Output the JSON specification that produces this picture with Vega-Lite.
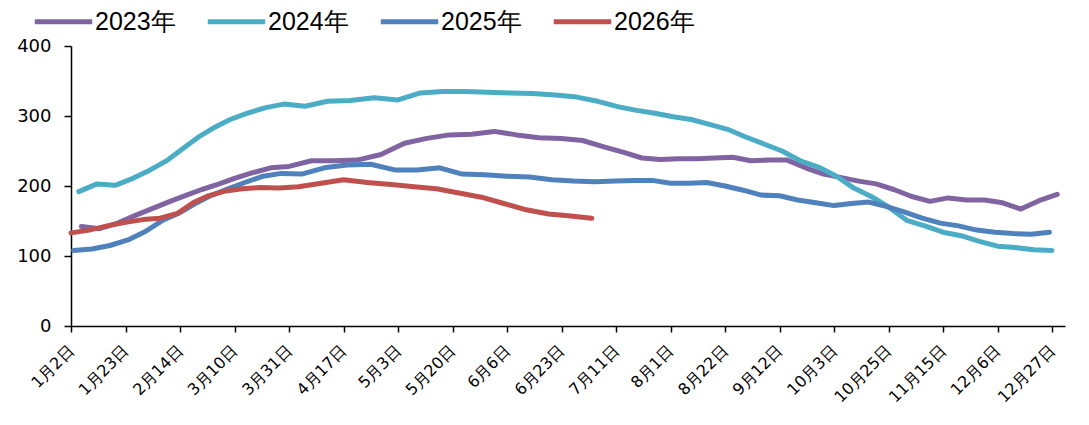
{
  "$schema": "https://vega.github.io/schema/vega-lite/v6.json",
  "width": 994,
  "height": 280,
  "autosize": {"type": "none"},
  "padding": {"left": 71, "top": 46, "right": 24, "bottom": 99},
  "background": "white",
  "config": {"view": {"stroke": null}},
  "data": {"values": [
    {"series":"2023年","date":"2023-01-06","day":6,"value":142},{"series":"2023年","date":"2023-01-13","day":13,"value":139},{"series":"2023年","date":"2023-01-20","day":20,"value":147},{"series":"2023年","date":"2023-01-27","day":27,"value":158},
    {"series":"2023年","date":"2023-02-03","day":34,"value":168},{"series":"2023年","date":"2023-02-10","day":41,"value":178},{"series":"2023年","date":"2023-02-17","day":48,"value":187},{"series":"2023年","date":"2023-02-24","day":55,"value":195},
    {"series":"2023年","date":"2023-03-03","day":63,"value":203},{"series":"2023年","date":"2023-03-10","day":70,"value":211},{"series":"2023年","date":"2023-03-17","day":77,"value":219},{"series":"2023年","date":"2023-03-24","day":84,"value":226},{"series":"2023年","date":"2023-03-31","day":91,"value":228},
    {"series":"2023年","date":"2023-04-07","day":98,"value":236},{"series":"2023年","date":"2023-04-14","day":105,"value":236},{"series":"2023年","date":"2023-04-21","day":112,"value":237},{"series":"2023年","date":"2023-04-28","day":119,"value":245},
    {"series":"2023年","date":"2023-05-05","day":126,"value":261},{"series":"2023年","date":"2023-05-12","day":133,"value":268},{"series":"2023年","date":"2023-05-19","day":140,"value":273},{"series":"2023年","date":"2023-05-26","day":147,"value":274},
    {"series":"2023年","date":"2023-06-02","day":154,"value":278},{"series":"2023年","date":"2023-06-09","day":161,"value":273},{"series":"2023年","date":"2023-06-16","day":168,"value":269},{"series":"2023年","date":"2023-06-23","day":175,"value":268},{"series":"2023年","date":"2023-06-30","day":182,"value":265},
    {"series":"2023年","date":"2023-07-07","day":189,"value":256},{"series":"2023年","date":"2023-07-14","day":196,"value":248},{"series":"2023年","date":"2023-07-21","day":203,"value":240},{"series":"2023年","date":"2023-07-28","day":210,"value":238},
    {"series":"2023年","date":"2023-08-04","day":217,"value":239},{"series":"2023年","date":"2023-08-11","day":224,"value":239},{"series":"2023年","date":"2023-08-18","day":231,"value":240},{"series":"2023年","date":"2023-08-25","day":238,"value":241},
    {"series":"2023年","date":"2023-09-01","day":245,"value":236},{"series":"2023年","date":"2023-09-08","day":252,"value":237},{"series":"2023年","date":"2023-09-15","day":259,"value":237},{"series":"2023年","date":"2023-09-22","day":266,"value":226},{"series":"2023年","date":"2023-09-29","day":273,"value":217},
    {"series":"2023年","date":"2023-10-06","day":280,"value":212},{"series":"2023年","date":"2023-10-13","day":287,"value":207},{"series":"2023年","date":"2023-10-20","day":294,"value":203},{"series":"2023年","date":"2023-10-27","day":301,"value":195},
    {"series":"2023年","date":"2023-11-03","day":308,"value":185},{"series":"2023年","date":"2023-11-10","day":315,"value":178},{"series":"2023年","date":"2023-11-17","day":322,"value":183},{"series":"2023年","date":"2023-11-24","day":329,"value":180},
    {"series":"2023年","date":"2023-12-01","day":336,"value":180},{"series":"2023年","date":"2023-12-08","day":343,"value":176},{"series":"2023年","date":"2023-12-15","day":350,"value":167},{"series":"2023年","date":"2023-12-22","day":357,"value":179},{"series":"2023年","date":"2023-12-29","day":364,"value":188},

    {"series":"2024年","date":"2024-01-05","day":5,"value":192},{"series":"2024年","date":"2024-01-12","day":12,"value":203},{"series":"2024年","date":"2024-01-19","day":19,"value":201},{"series":"2024年","date":"2024-01-26","day":26,"value":211},
    {"series":"2024年","date":"2024-02-02","day":33,"value":223},{"series":"2024年","date":"2024-02-09","day":40,"value":237},{"series":"2024年","date":"2024-02-16","day":47,"value":255},{"series":"2024年","date":"2024-02-23","day":54,"value":271},
    {"series":"2024年","date":"2024-03-01","day":61,"value":284},{"series":"2024年","date":"2024-03-08","day":68,"value":295},{"series":"2024年","date":"2024-03-15","day":75,"value":304},{"series":"2024年","date":"2024-03-22","day":82,"value":312},{"series":"2024年","date":"2024-03-29","day":89,"value":317},
    {"series":"2024年","date":"2024-04-05","day":96,"value":314},{"series":"2024年","date":"2024-04-12","day":103,"value":321},{"series":"2024年","date":"2024-04-19","day":110,"value":322},{"series":"2024年","date":"2024-04-26","day":117,"value":326},
    {"series":"2024年","date":"2024-05-03","day":124,"value":323},{"series":"2024年","date":"2024-05-10","day":131,"value":333},{"series":"2024年","date":"2024-05-17","day":138,"value":335},{"series":"2024年","date":"2024-05-24","day":145,"value":335},{"series":"2024年","date":"2024-05-31","day":152,"value":334},
    {"series":"2024年","date":"2024-06-07","day":159,"value":333},{"series":"2024年","date":"2024-06-14","day":166,"value":332},{"series":"2024年","date":"2024-06-21","day":173,"value":330},{"series":"2024年","date":"2024-06-28","day":180,"value":327},
    {"series":"2024年","date":"2024-07-05","day":187,"value":321},{"series":"2024年","date":"2024-07-12","day":194,"value":313},{"series":"2024年","date":"2024-07-19","day":201,"value":308},{"series":"2024年","date":"2024-07-26","day":208,"value":304},
    {"series":"2024年","date":"2024-08-02","day":215,"value":299},{"series":"2024年","date":"2024-08-09","day":222,"value":295},{"series":"2024年","date":"2024-08-16","day":229,"value":288},{"series":"2024年","date":"2024-08-23","day":236,"value":281},{"series":"2024年","date":"2024-08-30","day":243,"value":270},
    {"series":"2024年","date":"2024-09-06","day":250,"value":260},{"series":"2024年","date":"2024-09-13","day":257,"value":250},{"series":"2024年","date":"2024-09-20","day":264,"value":236},{"series":"2024年","date":"2024-09-27","day":271,"value":227},
    {"series":"2024年","date":"2024-10-04","day":278,"value":214},{"series":"2024年","date":"2024-10-11","day":285,"value":197},{"series":"2024年","date":"2024-10-18","day":292,"value":185},{"series":"2024年","date":"2024-10-25","day":299,"value":170},
    {"series":"2024年","date":"2024-11-01","day":306,"value":151},{"series":"2024年","date":"2024-11-08","day":313,"value":143},{"series":"2024年","date":"2024-11-15","day":320,"value":134},{"series":"2024年","date":"2024-11-22","day":327,"value":129},{"series":"2024年","date":"2024-11-29","day":334,"value":121},
    {"series":"2024年","date":"2024-12-06","day":341,"value":114},{"series":"2024年","date":"2024-12-13","day":348,"value":112},{"series":"2024年","date":"2024-12-20","day":355,"value":109},{"series":"2024年","date":"2024-12-27","day":362,"value":108},

    {"series":"2025年","date":"2025-01-03","day":3,"value":108},{"series":"2025年","date":"2025-01-10","day":10,"value":110},{"series":"2025年","date":"2025-01-17","day":17,"value":115},{"series":"2025年","date":"2025-01-24","day":24,"value":123},{"series":"2025年","date":"2025-01-31","day":31,"value":135},
    {"series":"2025年","date":"2025-02-07","day":38,"value":151},{"series":"2025年","date":"2025-02-14","day":45,"value":162},{"series":"2025年","date":"2025-02-21","day":52,"value":175},{"series":"2025年","date":"2025-02-28","day":59,"value":186},
    {"series":"2025年","date":"2025-03-07","day":67,"value":196},{"series":"2025年","date":"2025-03-14","day":74,"value":205},{"series":"2025年","date":"2025-03-21","day":81,"value":214},{"series":"2025年","date":"2025-03-28","day":88,"value":218},
    {"series":"2025年","date":"2025-04-04","day":95,"value":217},{"series":"2025年","date":"2025-04-11","day":102,"value":226},{"series":"2025年","date":"2025-04-18","day":109,"value":230},{"series":"2025年","date":"2025-04-25","day":116,"value":231},
    {"series":"2025年","date":"2025-05-02","day":123,"value":223},{"series":"2025年","date":"2025-05-09","day":130,"value":223},{"series":"2025年","date":"2025-05-16","day":137,"value":226},{"series":"2025年","date":"2025-05-23","day":144,"value":217},{"series":"2025年","date":"2025-05-30","day":151,"value":216},
    {"series":"2025年","date":"2025-06-06","day":158,"value":214},{"series":"2025年","date":"2025-06-13","day":165,"value":213},{"series":"2025年","date":"2025-06-20","day":172,"value":209},{"series":"2025年","date":"2025-06-27","day":179,"value":207},
    {"series":"2025年","date":"2025-07-04","day":186,"value":206},{"series":"2025年","date":"2025-07-11","day":193,"value":207},{"series":"2025年","date":"2025-07-18","day":200,"value":208},{"series":"2025年","date":"2025-07-25","day":207,"value":208},
    {"series":"2025年","date":"2025-08-01","day":214,"value":204},{"series":"2025年","date":"2025-08-08","day":221,"value":204},{"series":"2025年","date":"2025-08-15","day":228,"value":205},{"series":"2025年","date":"2025-08-22","day":235,"value":200},{"series":"2025年","date":"2025-08-29","day":242,"value":194},
    {"series":"2025年","date":"2025-09-05","day":249,"value":187},{"series":"2025年","date":"2025-09-12","day":256,"value":186},{"series":"2025年","date":"2025-09-19","day":263,"value":180},{"series":"2025年","date":"2025-09-26","day":270,"value":176},
    {"series":"2025年","date":"2025-10-03","day":277,"value":172},{"series":"2025年","date":"2025-10-10","day":284,"value":175},{"series":"2025年","date":"2025-10-17","day":291,"value":177},{"series":"2025年","date":"2025-10-24","day":298,"value":171},{"series":"2025年","date":"2025-10-31","day":305,"value":163},
    {"series":"2025年","date":"2025-11-07","day":312,"value":154},{"series":"2025年","date":"2025-11-14","day":319,"value":147},{"series":"2025年","date":"2025-11-21","day":326,"value":143},{"series":"2025年","date":"2025-11-28","day":333,"value":137},
    {"series":"2025年","date":"2025-12-05","day":340,"value":134},{"series":"2025年","date":"2025-12-12","day":347,"value":132},{"series":"2025年","date":"2025-12-19","day":354,"value":131},{"series":"2025年","date":"2025-12-26","day":361,"value":134},

    {"series":"2026年","date":"2026-01-02","day":2,"value":133},{"series":"2026年","date":"2026-01-09","day":9,"value":137},{"series":"2026年","date":"2026-01-16","day":16,"value":143},{"series":"2026年","date":"2026-01-23","day":23,"value":148},{"series":"2026年","date":"2026-01-30","day":30,"value":152},
    {"series":"2026年","date":"2026-02-06","day":37,"value":154},{"series":"2026年","date":"2026-02-13","day":44,"value":161},{"series":"2026年","date":"2026-02-20","day":51,"value":176},{"series":"2026年","date":"2026-02-27","day":58,"value":186},
    {"series":"2026年","date":"2026-03-06","day":66,"value":193},{"series":"2026年","date":"2026-03-13","day":73,"value":196},{"series":"2026年","date":"2026-03-20","day":80,"value":198},{"series":"2026年","date":"2026-03-27","day":87,"value":197},
    {"series":"2026年","date":"2026-04-03","day":94,"value":199},{"series":"2026年","date":"2026-04-10","day":101,"value":204},{"series":"2026年","date":"2026-04-17","day":108,"value":209},{"series":"2026年","date":"2026-04-24","day":115,"value":205},
    {"series":"2026年","date":"2026-05-01","day":122,"value":202},{"series":"2026年","date":"2026-05-08","day":129,"value":199},{"series":"2026年","date":"2026-05-15","day":136,"value":196},{"series":"2026年","date":"2026-05-22","day":143,"value":190},{"series":"2026年","date":"2026-05-29","day":150,"value":184},
    {"series":"2026年","date":"2026-06-05","day":157,"value":175},{"series":"2026年","date":"2026-06-12","day":164,"value":166},{"series":"2026年","date":"2026-06-19","day":171,"value":160},{"series":"2026年","date":"2026-06-26","day":178,"value":157},
    {"series":"2026年","date":"2026-07-03","day":185,"value":154}
  ]},
  "mark": {"type": "line", "strokeWidth": 5, "strokeCap": "round", "strokeJoin": "round"},
  "encoding": {
    "x": {
      "field": "day",
      "type": "quantitative",
      "scale": {
        "type": "linear",
        "nice": false,
        "zero": false,
        "domain": [2, 23, 45, 70, 91, 108, 124, 141, 158, 175, 193, 214, 235, 256, 277, 299, 320, 341, 362, 367],
        "range": [0, 54.5, 109, 163.5, 218, 272.5, 327, 381.5, 436, 490.5, 545, 599.5, 654, 708.5, 763, 817.5, 872, 926.5, 981, 994]
      },
      "axis": {
        "title": null,
        "grid": false,
        "values": [2, 23, 45, 70, 91, 108, 124, 141, 158, 175, 193, 214, 235, 256, 277, 299, 320, 341, 362],
        "labelExpr": "utcFormat(utc(2012, 0, datum.value), '%-m月%-d日')",
        "labelAngle": -45,
        "labelAlign": "right",
        "labelBaseline": "middle",
        "labelFont": "DejaVu Sans",
        "labelFontSize": 16,
        "labelColor": "#000",
        "labelPadding": 16,
        "labelOverlap": false,
        "labelFlush": false,
        "labelBound": false,
        "tickColor": "#000",
        "tickSize": 6,
        "tickWidth": 1.5,
        "domainColor": "#000",
        "domainWidth": 1.5
      }
    },
    "y": {
      "field": "value",
      "type": "quantitative",
      "scale": {"domain": [0, 400], "nice": false, "zero": true},
      "axis": {
        "title": null,
        "grid": false,
        "values": [0, 100, 200, 300, 400],
        "labelFont": "DejaVu Sans",
        "labelFontSize": 18,
        "labelColor": "#000",
        "labelPadding": 13,
        "tickColor": "#000",
        "tickSize": 7,
        "tickWidth": 1.5,
        "domainColor": "#000",
        "domainWidth": 1.5
      }
    },
    "color": {
      "field": "series",
      "type": "nominal",
      "scale": {
        "domain": ["2023年", "2024年", "2025年", "2026年"],
        "range": ["#8064A2", "#4BACC6", "#4F81BD", "#C0504D"]
      },
      "legend": {
        "title": null,
        "orient": "none",
        "legendX": -39,
        "legendY": -56,
        "direction": "horizontal",
        "padding": 0,
        "symbolType": "stroke",
        "symbolStrokeWidth": 5,
        "symbolSize": 3300,
        "labelFont": "Liberation Sans",
        "labelFontSize": 25,
        "labelColor": "#000",
        "labelOffset": 0,
        "columnPadding": 21,
        "labelLimit": 300
      }
    }
  }
}
